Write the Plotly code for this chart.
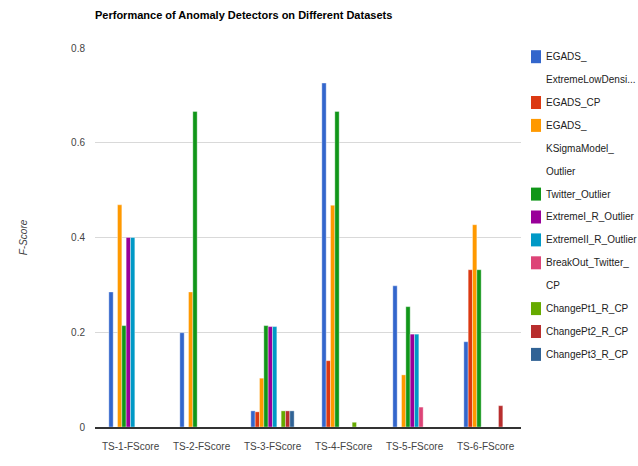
import plotly.graph_objects as go

categories = ["TS-1-FScore", "TS-2-FScore", "TS-3-FScore", "TS-4-FScore", "TS-5-FScore", "TS-6-FScore"]

series_names = [
    "EGADS_<br>ExtremeLowDensi...",
    "EGADS_CP",
    "EGADS_<br>KSigmaModel_<br>Outlier",
    "Twitter_Outlier",
    "ExtremeI_R_Outlier",
    "ExtremeII_R_Outlier",
    "BreakOut_Twitter_<br>CP",
    "ChangePt1_R_CP",
    "ChangePt2_R_CP",
    "ChangePt3_R_CP",
]

egads_extreme = [0.285, 0.199, 0.034, 0.726, 0.298, 0.180]
egads_cp = [0.0, 0.0, 0.032, 0.140, 0.0, 0.332]
egads_ksigma = [0.469, 0.285, 0.103, 0.468, 0.110, 0.427]
twitter_outlier = [0.214, 0.666, 0.214, 0.666, 0.254, 0.332]
extreme1_r = [0.400, 0.0, 0.212, 0.0, 0.196, 0.0]
extreme2_r = [0.400, 0.0, 0.212, 0.0, 0.196, 0.0]
breakout_twitter = [0.0, 0.0, 0.0, 0.0, 0.042, 0.0]
changept1 = [0.0, 0.0, 0.034, 0.010, 0.0, 0.0]
changept2 = [0.0, 0.0, 0.034, 0.0, 0.0, 0.045]
changept3 = [0.0, 0.0, 0.034, 0.0, 0.0, 0.0]

series_values = [egads_extreme, egads_cp, egads_ksigma, twitter_outlier, extreme1_r,
                 extreme2_r, breakout_twitter, changept1, changept2, changept3]

colors = ["#3366cc", "#dc3912", "#ff9900", "#109618", "#990099",
          "#0099c6", "#dd4477", "#66aa00", "#b82e2e", "#316395"]

y_ticks = [0, 0.2, 0.4, 0.6, 0.8]
y_tick_text = ["0", "0.2", "0.4", "0.6", "0.8"]

FONT = "Liberation Sans, Arial, sans-serif"
W, H = 638, 466
L, R, T, B = 95, 117, 48, 39
PW, PH = W - L - R, H - T - B


def px_x(x):
    return (x - L) / PW


def px_y(y):
    return (H - B - y) / PH


fig = go.Figure()
for name, vals, col in zip(series_names, series_values, colors):
    fig.add_trace(go.Bar(
        x=categories, y=vals, name=name, showlegend=False,
        marker=dict(color=col, line=dict(color="rgba(255,255,255,0.6)", width=0.6)),
    ))

shapes, annotations = [], []

# category labels placed on the x scale, a little further below the axis line
for cat in categories:
    annotations.append(dict(text=cat, xref="x", yref="paper", x=cat, y=px_y(446),
                            xanchor="center", yanchor="middle", showarrow=False,
                            font=dict(family=FONT, size=10, color="#444444")))

# hand-laid legend (Google-chart style: wrapped labels, generous line spacing)
line_idx = 0
first_y, step = 56.7, 22.9
for name, col in zip(series_names, colors):
    lines = name.split("<br>")
    yc = first_y + line_idx * step
    shapes.append(dict(type="rect", xref="paper", yref="paper",
                       x0=px_x(531), x1=px_x(541), y0=px_y(yc + 6.5), y1=px_y(yc - 6.5),
                       fillcolor=col, line=dict(width=0)))
    for k, txt in enumerate(lines):
        annotations.append(dict(text=txt, xref="paper", yref="paper",
                                x=px_x(544), y=px_y(yc + k * step),
                                xanchor="left", yanchor="middle", showarrow=False,
                                font=dict(family=FONT, size=10, color="#222222")))
    line_idx += len(lines)

fig.update_layout(
    width=W, height=H,
    margin=dict(l=L, r=R, t=T, b=B, autoexpand=False),
    paper_bgcolor="white", plot_bgcolor="white",
    barmode="group", bargap=0.39, bargroupgap=0,
    font=dict(family=FONT, size=10, color="#444444"),
    title=dict(text="<b>Performance of Anomaly Detectors on Different Datasets</b>",
               x=95 / W, xanchor="left", y=1 - 15 / H, yanchor="middle",
               font=dict(family=FONT, size=11, color="#000000")),
    showlegend=False,
    shapes=shapes,
    annotations=annotations,
)
fig.update_xaxes(showline=True, linecolor="#333333", linewidth=1.5,
                 ticks="", showticklabels=False, showgrid=False)
fig.update_yaxes(range=[0, 0.8], tickvals=y_ticks, ticktext=y_tick_text,
                 showgrid=True, gridcolor="#d9d9d9", gridwidth=1, zeroline=False,
                 tickfont=dict(family=FONT, size=10, color="#444444"),
                 ticklabelstandoff=9,
                 title=dict(text="<i>F-Score</i>", standoff=41,
                            font=dict(family=FONT, size=10, color="#444444")))

fig.write_html("out.html", config={"displayModeBar": False},
               post_script="document.body.style.margin='0';document.body.style.padding='0';")
